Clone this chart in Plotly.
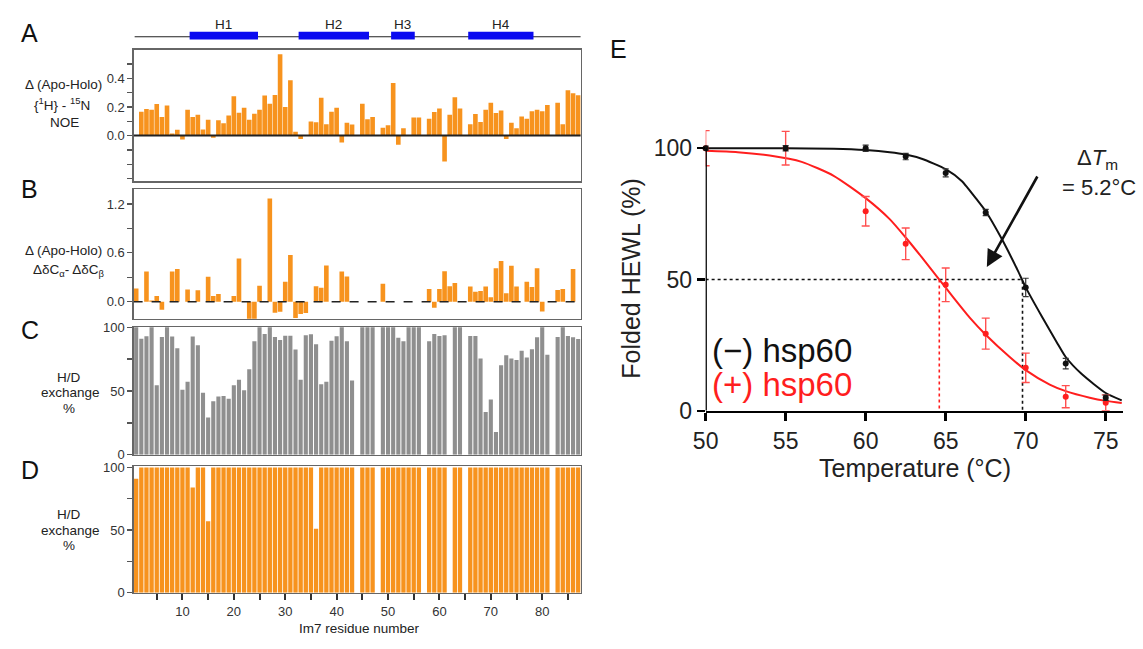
import plotly.graph_objects as go

W, H = 1143, 649


def px(x):
    return x / W


def py(y):
    return 1 - y / H


# ---------------- data: panels A-D (Im7 residues 1-87) ----------------
residues = list(range(1, 88))

noe_delta = [None, 0.166, 0.186, 0.18, 0.22, 0.13, 0.21, 0.015, 0.04, -0.027,
             0.18, 0.13, 0.145, 0.043, 0.11, -0.015, 0.107, 0.086, 0.14, 0.275,
             0.16, 0.195, 0.11, 0.152, 0.18, 0.28, 0.223, 0.284, 0.568, 0.2,
             0.386, 0.027, -0.023, None, 0.098, 0.093, 0.264, 0.08, 0.166, 0.195,
             -0.048, 0.09, 0.077, None, 0.223, 0.114, 0.13, None, 0.055, 0.073,
             0.368, -0.064, 0.052, None, 0.127, 0.127, None, 0.118, 0.164, 0.19,
             -0.18, 0.145, 0.268, 0.19, None, 0.08, 0.15, 0.095, 0.18, 0.23,
             0.157, 0.175, -0.023, 0.09, 0.052, 0.134, 0.118, 0.17, 0.18, 0.17,
             0.214, None, 0.23, 0.08, 0.316, 0.295, 0.282]

cs_delta = [0.163, None, 0.37, 0.015, 0.07, -0.10, None, 0.37, 0.40, None,
            0.15, None, 0.14, None, 0.306, 0.07, 0.095, None, None, 0.07,
            0.53, None, -0.25, -0.25, 0.195, None, 1.267, -0.135, -0.123, 0.246,
            0.572, -0.2, -0.15, -0.14, None, 0.19, 0.17, 0.445, None, None,
            0.37, 0.31, None, None, None, None, None, None, 0.22, None,
            None, None, None, None, None, None, None, 0.155, -0.075, 0.155,
            0.373, 0.19, 0.23, None, None, 0.187, 0.123, 0.13, 0.187, 0.056,
            0.41, 0.5, 0.103, 0.44, 0.187, None, 0.246, 0.18, 0.41, -0.12,
            None, None, 0.143, 0.155, None, 0.4, None]

hd_free = [100, 91, 93, 100, 54.5, 92.4, 100, 92.7, 83.6, 51,
           57.3, 92.7, 85.9, 48.7, 29.3, 41.9, 45.7, 46, 44, 54.5,
           58.8, 50.5, 67, 89, 100, 94.7, 100, 92.4, 90, 93.4,
           93.4, 82.6, 58.8, 93.7, 94.4, 86.6, 55.3, 57.3, 89.4, 93,
           100, 89, 58.3, None, 100, 100, 100, None, 100, 100,
           100, 91.7, 89, 100, 100, 100, None, 89, 94.7, 93.2,
           93.7, None, 100, 100, None, 93.2, 93.2, 75.5, 33.6, 43.4,
           17.9, 70.2, 78, 75.5, 74.2, 81.6, 76.3, 82.8, 92.2, 100,
           78.5, None, 92.4, 100, 93.2, 92.2, 90.7]

hd_bound = [91, 100, 100, 100, 100, 100, 100, 100, 100, 100,
            100, 84, 100, 100, 57, 100, 100, 100, 100, 100,
            100, 100, 100, 100, 100, 100, 100, 100, 100, 100,
            100, 100, 100, 100, 100, 51, 100, 100, 100, 100,
            100, 100, 100, None, 100, 100, 100, None, 100, 100,
            100, 100, 100, 100, 100, 100, None, 100, 100, 100,
            100, None, 100, 100, None, 100, 100, 100, 100, 100,
            100, 100, 100, 100, 100, 100, 100, 100, 100, 100,
            100, None, 100, 100, 100, 100, 100]

helix_names = ["H1", "H2", "H3", "H4"]
helix_start = [11.4, 32.6, 50.6, 65.6]
helix_end = [24.7, 46.3, 55.2, 78.3]

# ---------------- data: panel E ----------------
temps = [50, 55, 60, 62.5, 65, 67.5, 70, 72.5, 75]
folded_minus = [100, 100, 100, 96.8, 90.6, 75.5, 47, 18, 5]
err_minus = [0.8, 1.0, 1.2, 1.2, 1.5, 1.2, 3.5, 2.0, 1.0]
folded_plus = [100, 100, 76, 63.6, 48, 29.4, 16.4, 5.4, 3.1]
err_plus = [6.7, 6.4, 5.6, 6.0, 6.4, 5.9, 5.6, 4.2, 3.0]

fit_t_minus = [50, 55, 58, 60, 61.5, 62.5, 63.5, 65, 66, 67, 67.5, 68.5, 69.5,
               70, 71, 72, 72.5, 73.5, 75, 76]
fit_minus = [100, 100, 99.8, 99.3, 98.5, 97.6, 96, 92, 87.5, 80, 76, 65.5, 53.5,
             47, 36, 25.5, 20.5, 14, 6.8, 4]
fit_t_plus = [50, 52, 54, 56, 58, 60, 61.5, 62.5, 63.5, 64.6, 65.5, 66.5, 67.5,
              69, 70, 71.5, 72.5, 74, 75, 76]
fit_plus = [99, 98.5, 97.2, 94.8, 89.5, 81, 73, 66, 58.5, 50, 43, 35.5, 29,
            20.5, 15.5, 10, 7.5, 5, 3.8, 3]

tm_minus, tm_plus = 69.8, 64.6
delta_tm = 5.2

# ---------------- figure ----------------
FONT = "Liberation Sans, Arial, sans-serif"
orange = "#F7931E"
gray = "#8F8F8F"
red = "#FF1E1E"

fig = go.Figure()

fig.add_trace(go.Bar(x=residues, y=noe_delta, width=0.9, marker=dict(color=orange, line=dict(width=0)),
                     xaxis="x", yaxis="y", showlegend=False))
fig.add_trace(go.Bar(x=residues, y=cs_delta, width=0.9, marker=dict(color=orange, line=dict(width=0)),
                     xaxis="x2", yaxis="y2", showlegend=False))
fig.add_trace(go.Bar(x=residues, y=hd_free, width=0.8, marker=dict(color=gray, line=dict(width=0)),
                     xaxis="x3", yaxis="y3", showlegend=False))
fig.add_trace(go.Bar(x=residues, y=hd_bound, width=0.84, marker=dict(color=orange, line=dict(width=0)),
                     xaxis="x4", yaxis="y4", showlegend=False))

# Panel E: guide lines at Tm
fig.add_trace(go.Scatter(x=[temps[0], tm_minus, tm_minus], y=[50, 50, 0], mode="lines",
                         line=dict(color="#111", width=1.6, dash="dot"), xaxis="x5", yaxis="y5",
                         showlegend=False, hoverinfo="skip"))
fig.add_trace(go.Scatter(x=[tm_plus, tm_plus], y=[50, 0], mode="lines",
                         line=dict(color=red, width=1.6, dash="dot"), xaxis="x5", yaxis="y5",
                         showlegend=False, hoverinfo="skip"))
# fitted curves
fig.add_trace(go.Scatter(x=fit_t_minus, y=fit_minus, mode="lines", line=dict(color="#111", width=2, shape="spline", smoothing=0.6),
                         xaxis="x5", yaxis="y5", showlegend=False))
fig.add_trace(go.Scatter(x=fit_t_plus, y=fit_plus, mode="lines", line=dict(color=red, width=2, shape="spline", smoothing=0.6),
                         xaxis="x5", yaxis="y5", showlegend=False))
# data points
fig.add_trace(go.Scatter(x=temps, y=folded_plus, mode="markers", marker=dict(color=red, size=6),
                         error_y=dict(type="data", array=err_plus, color="#FF5050", thickness=1.4, width=4),
                         xaxis="x5", yaxis="y5", showlegend=False, cliponaxis=False))
fig.add_trace(go.Scatter(x=temps, y=folded_minus, mode="markers", marker=dict(color="#111", size=6),
                         error_y=dict(type="data", array=err_minus, color="#333", thickness=1.2, width=3),
                         xaxis="x5", yaxis="y5", showlegend=False, cliponaxis=False))

XR = [0.5, 87.5]
x_left = [px(122), px(574.3)]
tickfont = dict(family=FONT, size=13, color="#333")


def box_x(anchor, **kw):
    d = dict(domain=x_left, range=XR, anchor=anchor, showline=True, mirror=True, linecolor="#666",
             linewidth=1.3, showgrid=False, zeroline=False, ticks="", showticklabels=False)
    d.update(kw)
    return d


def box_y(anchor, dom, rng, vals, texts, minor_vals):
    return dict(domain=dom, range=rng, anchor=anchor, showline=True, mirror=True, linecolor="#666",
                linewidth=1.3, showgrid=False, zeroline=False, tickmode="array", tickvals=vals,
                ticktext=texts, ticks="outside", ticklen=5, tickwidth=1.3, tickcolor="#555",
                tickfont=tickfont,
                minor=dict(tickmode="array", tickvals=minor_vals, ticks="outside", ticklen=5,
                           tickwidth=1.3, tickcolor="#555"))


layout = dict(
    width=W, height=H, autosize=False, margin=dict(l=0, r=0, t=0, b=0),
    paper_bgcolor="white", plot_bgcolor="white", showlegend=False,
    xaxis=box_x("y"),
    yaxis=box_y("x", [py(180), py(44)], [-0.32, 0.6], [0, 0.2, 0.4], ["0.0", "0.2", "0.4"],
                [-0.3, -0.2, -0.1, 0.1, 0.3, 0.5]),
    xaxis2=box_x("y2"),
    yaxis2=box_y("x2", [py(321.7), py(187.7)], [-0.21, 1.385], [0, 0.6, 1.2], ["0.0", "0.6", "1.2"],
                 [0.3, 0.9]),
    xaxis3=box_x("y3"),
    yaxis3=box_y("x3", [py(462), py(330)], [0, 100.3], [0, 50, 100], ["0", "50", "100"], [25, 75]),
    xaxis4=box_x("y4", ticks="outside", ticklen=6, tickwidth=2, tickcolor="#333", showticklabels=True,
                 tickmode="linear", tick0=0, dtick=10, tickfont=tickfont,
                 minor=dict(tickmode="linear", tick0=5, dtick=10, ticks="outside", ticklen=6,
                            tickwidth=2, tickcolor="#333")),
    yaxis4=box_y("x4", [py(604.3), py(473.5)], [0, 101.2], [0, 50, 100], ["0", "50", "100"], [25, 75]),
    xaxis5=dict(domain=[px(700.6), px(1122.3)], range=[50, 76.05], anchor="y5", showline=True,
                linecolor="black", linewidth=2.5, showgrid=False, zeroline=False, tickmode="array",
                tickvals=[50, 55, 60, 65, 70, 75], ticks="outside", ticklen=8, tickwidth=2.5,
                tickcolor="black", tickfont=dict(family=FONT, size=23, color="#222")),
    yaxis5=dict(domain=[py(416.7), py(118.6)], range=[0, 110], anchor="x5", showline=False,
                showgrid=False, zeroline=False, tickmode="array", tickvals=[0, 50, 100],
                ticks="outside", ticklen=8, tickwidth=2.5, tickcolor="black",
                tickfont=dict(family=FONT, size=23, color="#222")),
)
fig.update_layout(**layout)

shapes = []
# zero lines
shapes.append(dict(type="line", xref="x", yref="y", x0=XR[0], x1=XR[1], y0=0, y1=0,
                   line=dict(color="#222", width=2), layer="above"))
shapes.append(dict(type="line", xref="x2", yref="y2", x0=XR[0], x1=XR[1], y0=0, y1=0,
                   line=dict(color="#222", width=1.4, dash="dash"), layer="above"))
# secondary structure
shapes.append(dict(type="line", xref="x", yref="paper", x0=XR[0] + 0.2, x1=XR[1], y0=py(30.7), y1=py(30.7),
                   line=dict(color="#222", width=1.2)))
for s, e in zip(helix_start, helix_end):
    shapes.append(dict(type="rect", xref="x", yref="paper", x0=s, x1=e, y0=py(33.5), y1=py(25.5),
                       fillcolor="#0A0AF0", line=dict(width=0)))
# panel E y axis line (only up to 100)
shapes.append(dict(type="line", xref="x5", yref="y5", x0=50, x1=50, y0=0, y1=100,
                   line=dict(color="black", width=2.5)))
fig.update_layout(shapes=shapes)

ann = []


def txt(x, y, t, size=13.5, color="#222", xanchor="center", **kw):
    d = dict(x=x, y=y, xref="paper", yref="paper", text=t, showarrow=False,
             font=dict(family=FONT, size=size, color=color), xanchor=xanchor, yanchor="middle")
    d.update(kw)
    ann.append(d)


for name, s, e in zip(helix_names, helix_start, helix_end):
    ann.append(dict(x=(s + e) / 2, y=py(18), xref="x", yref="paper", text=name, showarrow=False,
                    font=dict(family=FONT, size=13.5, color="#222"), yanchor="middle"))

# panel letters
for letter, (x, y) in zip("ABCDE", [(17, 27), (17, 188), (17, 333), (17, 478), (612, 43)]):
    txt(px(x), py(y), letter, size=25, color="#111")

# y titles
txt(px(51), py(80), "Δ (Apo-Holo)")
txt(px(50), py(100), "{<sup>1</sup>H} - <sup>15</sup>N")
txt(px(52), py(119), "NOE")
txt(px(51), py(251), "Δ (Apo-Holo)")
txt(px(57), py(272), "ΔδC<sub>α</sub>- ΔδC<sub>β</sub>")
for base in (382, 524):
    txt(px(57), py(base), "H/D")
    txt(px(58), py(base + 16), "exchange")
    txt(px(57), py(base + 32), "%")
txt(px(350), py(641), "Im7 residue number")

# panel E texts
txt(px(625.5), py(280), "Folded HEWL (%)", size=25, color="#222", textangle=-90)
txt(px(912), py(476), "Temperature (°C)", size=25, color="#222")
ann.append(dict(x=50.3, y=22.8, xref="x5", yref="y5", text="(−) hsp60", showarrow=False, xanchor="left",
                yanchor="middle", font=dict(family=FONT, size=33, color="#111")))
ann.append(dict(x=50.3, y=9.9, xref="x5", yref="y5", text="(+) hsp60", showarrow=False, xanchor="left",
                yanchor="middle", font=dict(family=FONT, size=33, color=red)))
ann.append(dict(x=74.5, y=95.9, xref="x5", yref="y5", text="Δ<i>T</i><sub>m</sub>", showarrow=False,
                font=dict(family=FONT, size=22, color="#222")))
ann.append(dict(x=74.6, y=84.9, xref="x5", yref="y5", text="= %.1f°C" % delta_tm, showarrow=False,
                font=dict(family=FONT, size=22, color="#222")))
ann.append(dict(x=67.57, y=54.8, xref="x5", yref="y5", ax=70.78, ay=89.8, axref="x5", ayref="y5",
                text="", showarrow=True, arrowhead=2, arrowsize=1.3, arrowwidth=2.6, arrowcolor="#111"))

fig.update_layout(annotations=ann)

fig.write_html("out.html", config={"displayModeBar": False, "staticPlot": True},
               post_script="document.body.style.margin='0';document.body.style.padding='0';"
                           "document.documentElement.style.overflow='hidden';")
